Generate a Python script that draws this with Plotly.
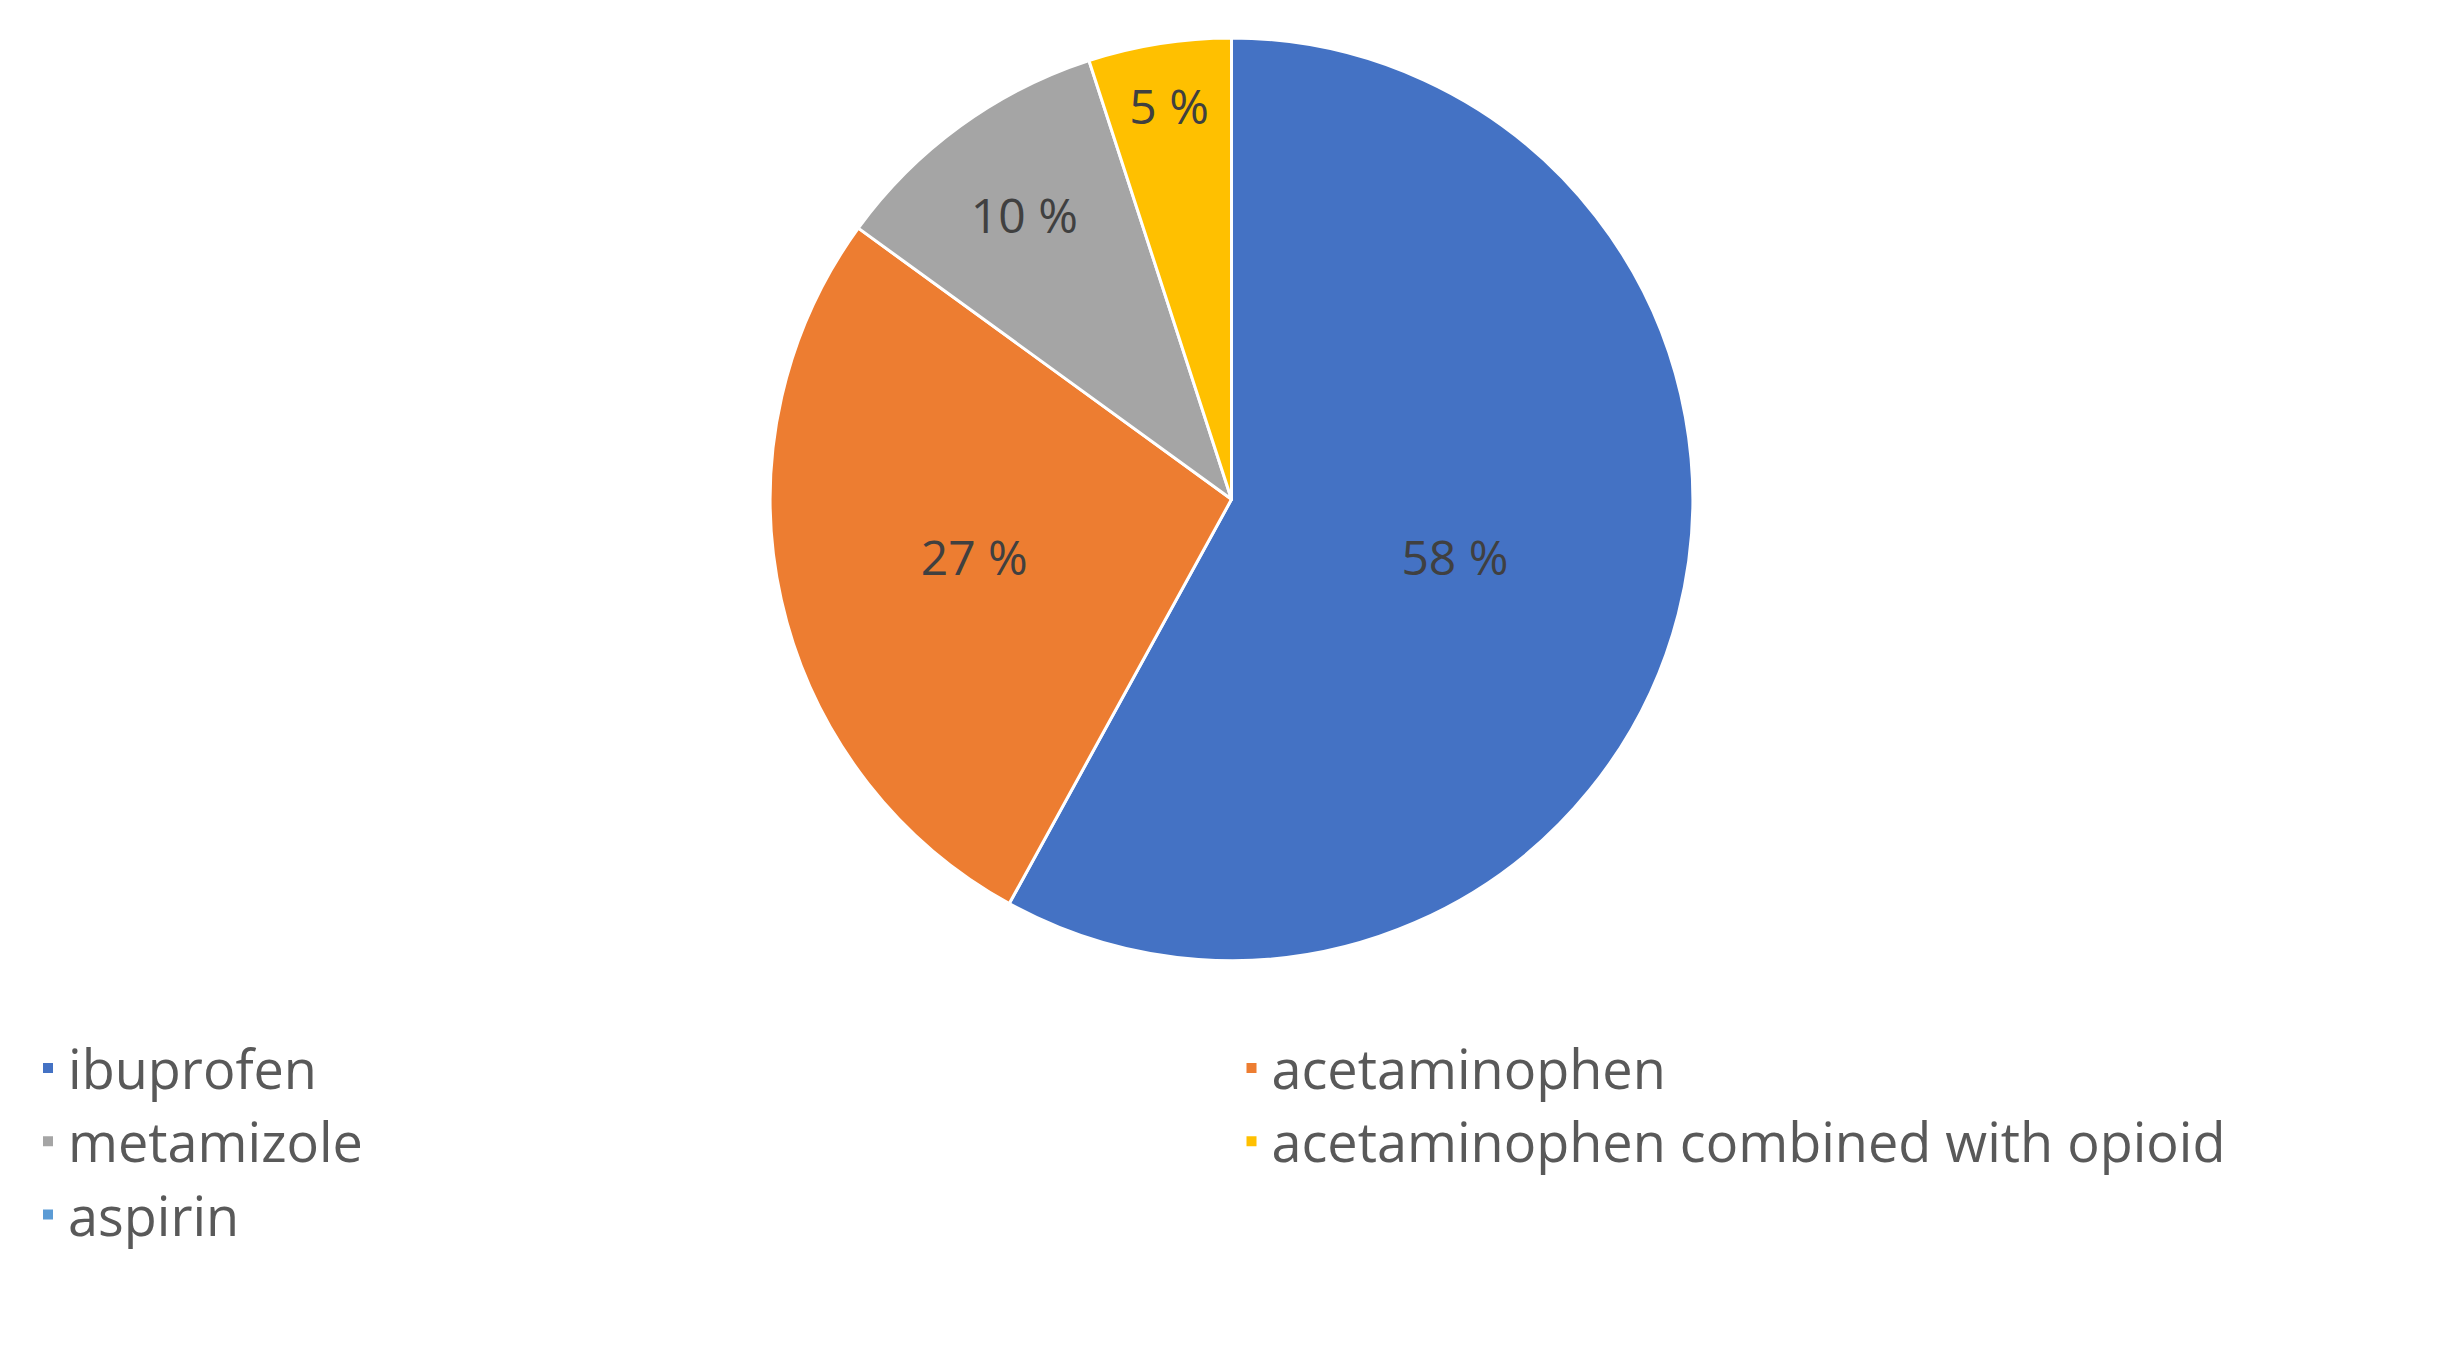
import plotly.graph_objects as go

drugs = ["ibuprofen", "acetaminophen", "metamizole",
         "acetaminophen combined with opioid", "aspirin"]
shares = [58, 27, 10, 5, 0]
colors = ["#4472C4", "#ED7D31", "#A5A5A5", "#FFC000", "#5B9BD5"]

fig = go.Figure()
fig.add_trace(go.Pie(
    labels=drugs, values=shares, sort=False, direction="clockwise", rotation=0,
    marker=dict(colors=colors, line=dict(color="white", width=3)),
    texttemplate="%{value} %", textposition="inside", insidetextorientation="horizontal",
    textfont=dict(family="Open Sans", size=48, color="#404040"),
    domain=dict(x=[0.1, 0.9], y=[0.3, 1.0]),
    hoverinfo="label+percent",
))
fig.update_layout(
    width=2447, height=1368,
    paper_bgcolor="white",
    margin=dict(l=20, r=20, t=30, b=20),
    showlegend=True,
    legend=dict(orientation="h", x=0.0, y=0.25, xanchor="left", yanchor="top",
                entrywidth=0.5, entrywidthmode="fraction",
                font=dict(family="Open Sans", size=54, color="#595959"),
                itemsizing="constant", traceorder="normal"),
)
fig.write_html("out.html")
